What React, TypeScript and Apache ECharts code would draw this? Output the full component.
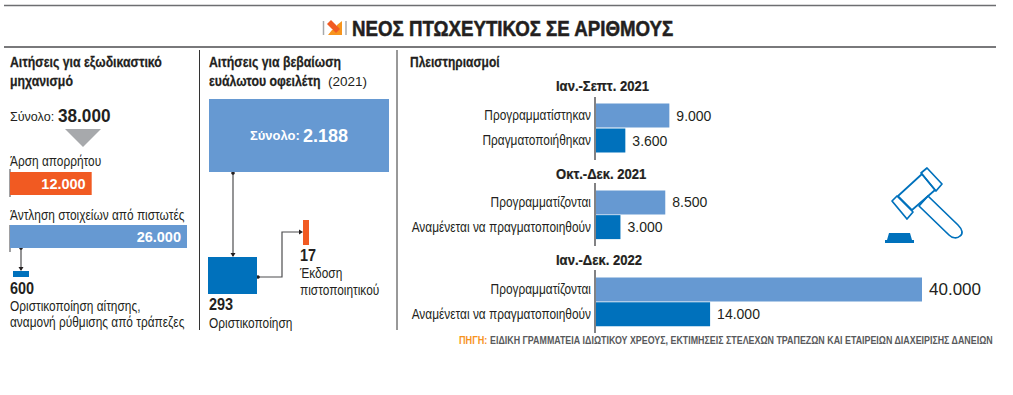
import React, { useEffect, useRef } from "react";
import * as echarts from "echarts";

const titleText = "ΝΕΟΣ ΠΤΩΧΕΥΤΙΚΟΣ ΣΕ ΑΡΙΘΜΟΥΣ";
const sourceLabel = "ΠΗΓΗ:";
const sourceText = "ΕΙΔΙΚΗ ΓΡΑΜΜΑΤΕΙΑ ΙΔΙΩΤΙΚΟΥ ΧΡΕΟΥΣ, ΕΚΤΙΜΗΣΕΙΣ ΣΤΕΛΕΧΩΝ ΤΡΑΠΕΖΩΝ ΚΑΙ ΕΤΑΙΡΕΙΩΝ ΔΙΑΧΕΙΡΙΣΗΣ ΔΑΝΕΙΩΝ";

const outOfCourtTotal = 38000;
const outOfCourtNames = ["Άρση απορρήτου", "Άντληση στοιχείων από πιστωτές"];
const outOfCourtValues = [12000, 26000];
const finalisedOutOfCourt = 600;

const vulnerableTotal = 2188;
const vulnerableFinalised = 293;
const vulnerableCertificates = 17;

const period1 = "Ιαν.-Σεπτ. 2021";
const period1Cats = ["Προγραμματίστηκαν", "Πραγματοποιήθηκαν"];
const period1Values = [9000, 3600];
const period2 = "Οκτ.-Δεκ. 2021";
const period2Cats = ["Προγραμματίζονται", "Αναμένεται να πραγματοποιηθούν"];
const period2Values = [8500, 3000];
const period3 = "Ιαν.-Δεκ. 2022";
const period3Cats = ["Προγραμματίζονται", "Αναμένεται να πραγματοποιηθούν"];
const period3Values = [40000, 14000];

const FONT = '"Liberation Sans", sans-serif';
const INK = "#231f20";
const LIGHT = "#6699d2";
const DARK = "#0071bc";
const ORANGE = "#f15a22";
const RULE = "#58595b";

const fmt = (v: number) => String(v).replace(/\B(?=(\d{3})+$)/g, ".");

export default function App() {
  const ref = useRef<HTMLDivElement>(null);
  useEffect(() => {
    if (!ref.current) return;
    echarts.graphic.registerShape(
      "gavelHandle",
      echarts.graphic.extendPath(
        "M919 206 L928 196 L958 225 C963 230 963 234 960 236 C957 239 952 238 949 235 Z",
        {}
      )
    );
    const chart = echarts.init(ref.current, undefined, { renderer: "svg" });

    const grids: any[] = [];
    const xAxes: any[] = [];
    const yAxes: any[] = [];
    const series: any[] = [];

    const addGrid = (
      box: { left: number; top: number; width: number; height: number },
      max: number,
      cats: string[],
      values: any[],
      colors: string[],
      opts: { barWidth?: any; label?: any } = {}
    ) => {
      const i = grids.length;
      grids.push({ ...box, containLabel: false });
      xAxes.push({ type: "value", gridIndex: i, min: 0, max, show: false });
      yAxes.push({
        type: "category",
        gridIndex: i,
        inverse: true,
        data: cats,
        axisLine: { show: false },
        axisTick: { show: false },
        splitLine: { show: false },
        axisLabel: { show: false },
      });
      series.push({
        type: "bar",
        xAxisIndex: i,
        yAxisIndex: i,
        barWidth: opts.barWidth ?? "100%",
        silent: true,
        data: values.map((v, k) => ({
          ...(typeof v === "object" ? v : { value: v }),
          itemStyle: { color: colors[k] },
        })),
        label: opts.label ?? { show: false },
      });
    };

    const insideLabel = {
      show: true,
      position: "insideRight",
      distance: 6,
      color: "#fff",
      fontFamily: FONT,
      fontWeight: "bold",
      fontSize: 14.5,
      formatter: (p: any) => fmt(p.value),
    };

    const scaleMax = outOfCourtValues[1];
    addGrid({ left: 10, top: 172, width: 177, height: 23 }, scaleMax, [outOfCourtNames[0]], [outOfCourtValues[0]], [ORANGE], { label: insideLabel });
    addGrid({ left: 10, top: 225, width: 177, height: 23 }, scaleMax, [outOfCourtNames[1]], [outOfCourtValues[1]], [LIGHT], { label: insideLabel });
    addGrid({ left: 13, top: 271, width: 16, height: 6 }, finalisedOutOfCourt, ["Οριστικοποίηση"], [finalisedOutOfCourt], [DARK]);
    addGrid({ left: 209, top: 99, width: 180, height: 73 }, vulnerableTotal, ["Σύνολο"], [vulnerableTotal], [LIGHT], {
      label: {
        show: true,
        position: "inside",
        formatter: (p: any) => `{a|Σύνολο:} {b|${fmt(p.value)}}`,
        rich: {
          a: { color: "#fff", fontFamily: FONT, fontWeight: "bold", fontSize: 13 },
          b: { color: "#fff", fontFamily: FONT, fontWeight: "bold", fontSize: 18 },
        },
      },
    });
    addGrid({ left: 208, top: 257, width: 49, height: 37 }, vulnerableFinalised, ["Οριστικοποίηση"], [vulnerableFinalised], [DARK]);
    addGrid({ left: 303, top: 220, width: 6, height: 25 }, vulnerableCertificates, ["Έκδοση πιστοποιητικού"], [vulnerableCertificates], [ORANGE]);

    const valueLabel = {
      show: true,
      position: "right",
      distance: 7,
      color: INK,
      fontFamily: FONT,
      fontSize: 14,
      formatter: (p: any) => fmt(p.value),
    };
    const PMAX = 40000;
    const p1 = { left: 596, top: 103, width: 326, height: 50 };
    const p2 = { left: 596, top: 190, width: 326, height: 49.5 };
    const p3 = { left: 596, top: 277, width: 326, height: 49.5 };
    addGrid(p1, PMAX, period1Cats, period1Values, [LIGHT, DARK], { barWidth: 24, label: valueLabel });
    addGrid(p2, PMAX, period2Cats, period2Values, [LIGHT, DARK], { barWidth: 24, label: valueLabel });
    addGrid(
      p3,
      PMAX,
      period3Cats,
      [{ value: period3Values[0], label: { fontSize: 17 } }, period3Values[1]],
      [LIGHT, DARK],
      { barWidth: 24, label: valueLabel }
    );

    const NARROW = 0.82;
    const t = (x: number, y: number, text: string, o: any = {}) => ({
      type: "text",
      x,
      y,
      scaleX: o.sx ?? NARROW,
      silent: true,
      style: {
        text,
        fill: o.fill ?? INK,
        font: `${o.weight ?? "normal"} ${o.size ?? 14.5}px ${FONT}`,
        align: o.align ?? "left",
        verticalAlign: "middle",
        ...(o.heavy ? { stroke: o.fill ?? INK, lineWidth: o.heavy } : {}),
        ...(o.rich ? { rich: o.rich } : {}),
      },
    });
    const head = (x: number, y: number, text: string) => t(x, y, text, { weight: "bold", size: 15, heavy: 0.25 });
    const big = (x: number, y: number, v: number) => t(x, y, fmt(v), { weight: "bold", size: 17, sx: 0.85 });
    const cats = (box: any, labels: string[]) =>
      labels.map((l, k) => t(591, box.top + (box.height * (k + 0.5)) / labels.length, l, { align: "right" }));

    const line = (x1: number, y1: number, x2: number, y2: number, stroke = RULE, lineWidth = 1.5) => ({
      type: "line",
      silent: true,
      shape: { x1, y1, x2, y2 },
      style: { stroke, lineWidth },
    });
    const poly = (points: number[][], style: any) => ({ type: "polygon", silent: true, shape: { points }, style });
    const dot = (cx: number, cy: number) => ({ type: "circle", silent: true, shape: { cx, cy, r: 1.8 }, style: { fill: INK } });
    const arrowDown = (x: number, y: number) => poly([[x - 2.5, y - 4], [x + 2.5, y - 4], [x, y]], { fill: INK });
    const arrowRight = (x: number, y: number) => poly([[x - 4, y - 2.5], [x - 4, y + 2.5], [x, y]], { fill: INK });
    const wire = (points: number[][]) => ({
      type: "polyline",
      silent: true,
      shape: { points },
      style: { stroke: "#4d4d4f", lineWidth: 1.2, fill: "none" },
    });
    const outline = { fill: "none", stroke: DARK, lineWidth: 1.7, lineJoin: "round" };

    const graphics: any[] = [
      line(4, 5.5, 996, 5.5, "#6d6e71", 1.6),
      line(4, 47, 996, 47, "#4d4d4f", 1.6),
      line(199.5, 50, 199.5, 330, "#333", 1),
      line(397, 50, 397, 330, "#333", 1),

      line(323.5, 21, 323.5, 35, "#a7a9ac", 1.5),
      line(346, 21, 346, 35, "#a7a9ac", 1.5),
      poly([[342, 21], [342, 35], [328, 35], [332, 30], [337, 30], [337, 25]], { fill: "#f7941d" }),
      poly([[327, 24], [331, 20], [340, 29], [336, 33]], { fill: ORANGE }),
      t(352, 29, titleText, { weight: "bold", size: 21.5, sx: 0.87, heavy: 0.5 }),

      head(10, 62, "Αιτήσεις για εξωδικαστικό"),
      head(10, 81, "μηχανισμό"),
      t(10, 116, `{a|Σύνολο:} {b|${fmt(outOfCourtTotal)}}`, {
        sx: 0.93,
        rich: {
          a: { fill: INK, font: `13.5px ${FONT}` },
          b: { fill: INK, font: `bold 18.5px ${FONT}` },
        },
      }),
      poly([[65, 129], [101, 129], [83, 147]], { fill: "#a7a9ac" }),
      t(10, 161, outOfCourtNames[0]),
      line(10, 169, 10, 197, "#6d6e71", 1.3),
      t(10, 215, outOfCourtNames[1]),
      line(10, 225, 10, 252, "#6d6e71", 1.3),
      wire([[21, 248], [21, 270]]),
      dot(21, 248),
      arrowDown(21, 271),
      big(10, 288, finalisedOutOfCourt),
      t(10, 306, "Οριστικοποίηση αίτησης,"),
      t(10, 322, "αναμονή ρύθμισης από τράπεζες"),

      head(209, 62, "Αιτήσεις για βεβαίωση"),
      head(209, 81, "ευάλωτου οφειλέτη"),
      t(328, 81, "(2021)", { size: 13.5, sx: 1 }),
      wire([[233, 172], [233, 256]]),
      dot(233, 173),
      arrowDown(233, 257),
      wire([[258, 277], [282, 277], [282, 232], [301, 232]]),
      dot(258, 277),
      arrowRight(303, 232),
      big(209, 304, vulnerableFinalised),
      t(209, 323, "Οριστικοποίηση"),
      big(300, 255, vulnerableCertificates),
      t(300, 273, "Έκδοση"),
      t(300, 290, "πιστοποιητικού"),

      t(410, 62, "Πλειστηριασμοί", { weight: "bold", size: 15, sx: 0.8, heavy: 0.25 }),
      t(556, 86, period1, { weight: "bold", size: 14.5, sx: 0.9, heavy: 0.25 }),
      line(595, 97, 595, 160),
      ...cats(p1, period1Cats),
      t(556, 174, period2, { weight: "bold", size: 14.5, sx: 0.9, heavy: 0.25 }),
      line(595, 183, 595, 246),
      ...cats(p2, period2Cats),
      t(556, 260, period3, { weight: "bold", size: 14.5, sx: 0.9, heavy: 0.25 }),
      line(595, 270, 595, 333),
      ...cats(p3, period3Cats),

      poly([[892, 201], [897, 196], [913, 212], [907, 219]], outline),
      poly([[898, 196], [922, 174], [935, 190], [912, 210]], outline),
      poly([[921, 173], [927, 168], [942, 184], [936, 191]], outline),
      { type: "gavelHandle", silent: true, x: 0, y: 0, style: outline },
      poly([[889, 233], [910, 233], [912, 240], [914, 240], [914, 243], [885, 243], [885, 240], [887, 240]], { fill: DARK }),

      t(459, 340, sourceLabel, { weight: "bold", size: 10.5, fill: "#f7941d", sx: 0.87 }),
      t(490, 340, sourceText, { weight: "bold", size: 10.5, fill: "#58595b", sx: 0.845 }),
    ];

    chart.setOption({
      animation: false,
      backgroundColor: "#fff",
      grid: grids,
      xAxis: xAxes,
      yAxis: yAxes,
      series,
      graphic: { elements: graphics },
    });
    return () => chart.dispose();
  }, []);
  return <div ref={ref} style={{ position: "fixed", left: 0, top: 0, width: 1013, height: 395 }} />;
}
